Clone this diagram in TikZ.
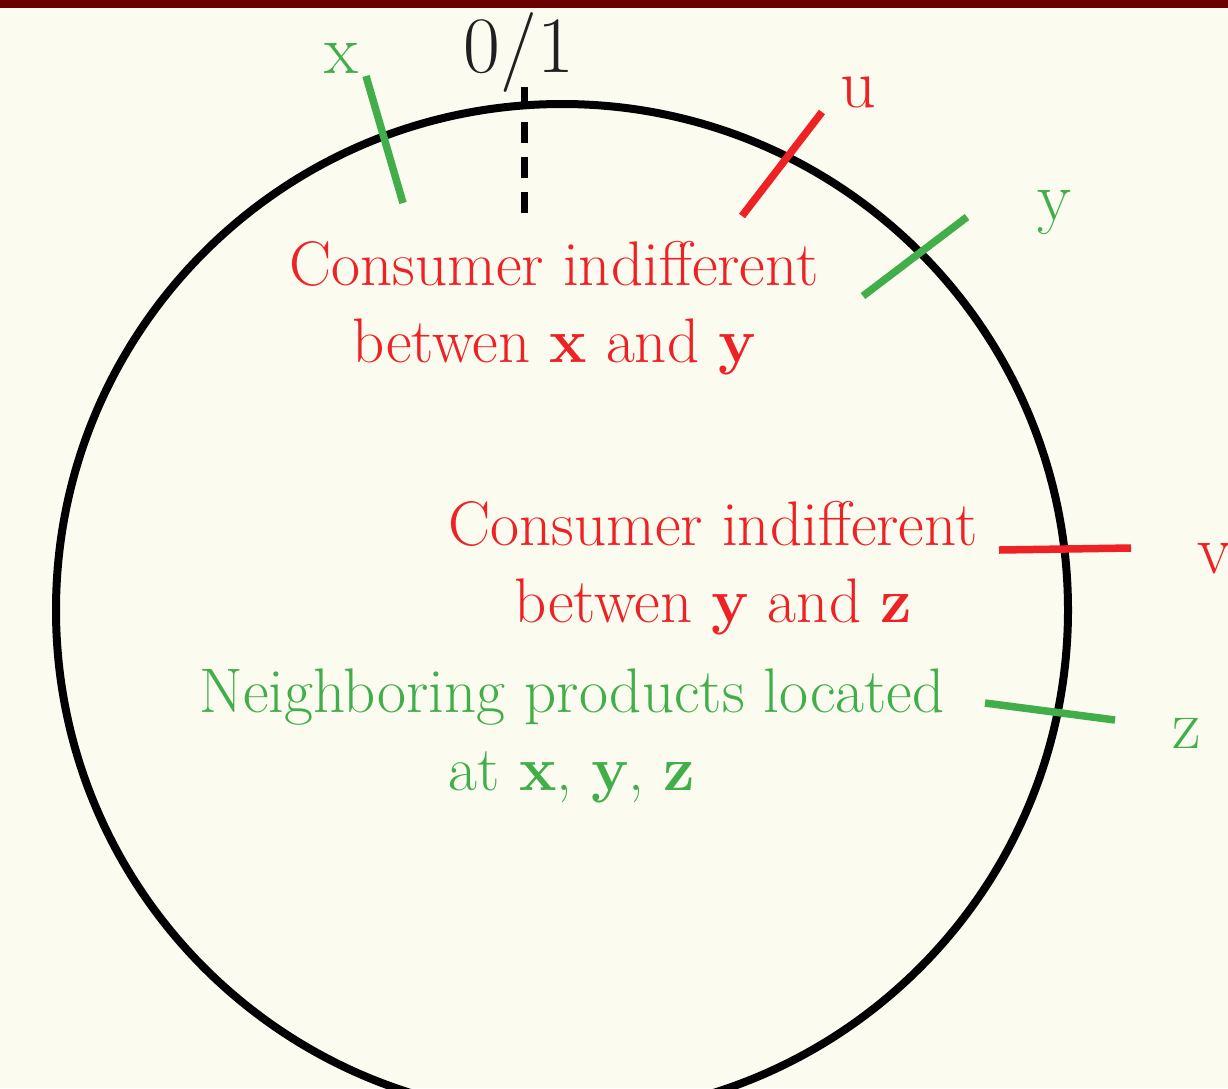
\documentclass[tikz,border=0pt]{standalone}
\usepackage{fontspec}
\definecolor{bgc}{HTML}{FBFBEF}
\definecolor{barc}{HTML}{6B0000}
\definecolor{redc}{HTML}{EE2124}
\definecolor{greenc}{HTML}{41AE4A}
\definecolor{darkc}{HTML}{231F20}
\tikzset{
  body/.style={inner sep=0pt, anchor=base, font=\fontsize{63}{77}\selectfont},
  letter/.style={inner sep=0pt, anchor=base, font=\fontsize{70}{80}\selectfont},
  tick/.style={line width=7.5pt},
}
\begin{document}
\begin{tikzpicture}[x=1pt,y=-1pt]
\useasboundingbox (0,0) rectangle (1228,1088);
\clip (0,0) rectangle (1228,1088);
\fill[bgc] (0,0) rectangle (1228,1088);
\fill[barc] (0,0) rectangle (1228,8);
% circle
\coordinate (c) at (562,610);
\draw[line width=8pt] (c) circle[radius=506];
% dashed 0/1 mark
\coordinate (d1) at (524,87);
\coordinate (d2) at (524,215);
\draw[line width=7pt, dash pattern=on 21pt off 14pt] (d1) -- (d2);
\node[letter, text=darkc, font=\fontsize{80}{86}\selectfont] (zo) at (519,72) {0/1};
% ticks
\coordinate (x1) at (366,76); \coordinate (x2) at (403,203);
\draw[tick, greenc] (x1) -- (x2);
\coordinate (u1) at (822,112); \coordinate (u2) at (742,216);
\draw[tick, redc] (u1) -- (u2);
\coordinate (y1) at (967,217); \coordinate (y2) at (863,296);
\draw[tick, greenc] (y1) -- (y2);
\coordinate (v1) at (999,550); \coordinate (v2) at (1131,548);
\draw[tick, redc] (v1) -- (v2);
\coordinate (z1) at (985,703); \coordinate (z2) at (1115,720);
\draw[tick, greenc] (z1) -- (z2);
% letter labels
\node[letter, text=greenc] (lx) at (341,73) {x};
\node[letter, text=redc] (lu) at (858,107) {u};
\node[letter, text=greenc] (ly) at (1054,220) {y};
\node[letter, text=redc] (lv) at (1214,573) {v};
\node[letter, text=greenc] (lz) at (1187,748) {z};
% texts
\node[body, text=redc] (t1a) at (554,285) {Consumer indifferent};
\node[body, text=redc] (t1b) at (554,362) {betwen \textbf{x} and \textbf{y}};
\node[body, text=redc] (t2a) at (713,545) {Consumer indifferent};
\node[body, text=redc] (t2b) at (713,622) {betwen \textbf{y} and \textbf{z}};
\node[body, text=greenc] (t3a) at (572,712) {Neighboring products located};
\node[body, text=greenc] (t3b) at (572,790) {at \textbf{x}, \textbf{y}, \textbf{z}};
\end{tikzpicture}
\end{document}
